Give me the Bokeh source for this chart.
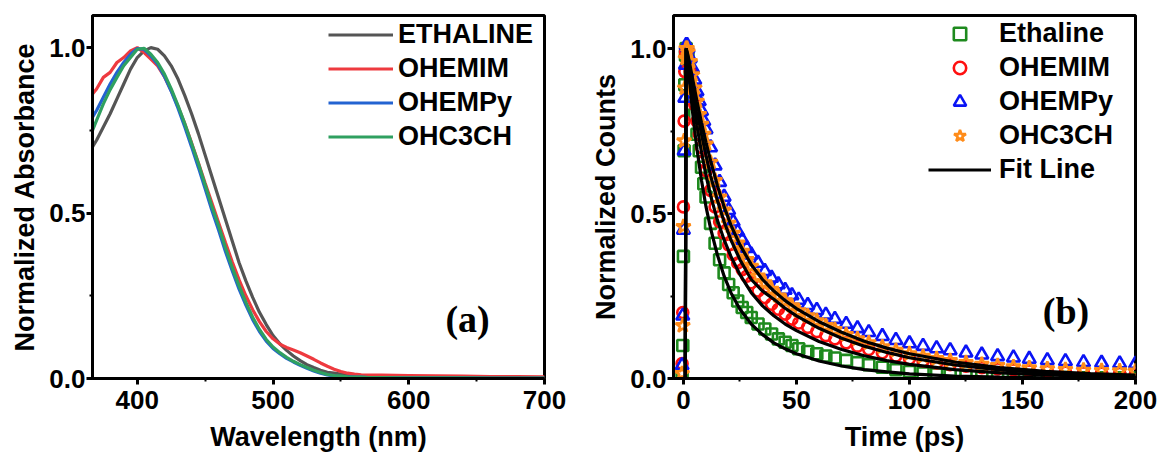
from bokeh.plotting import figure
from bokeh.layouts import row
from bokeh.models import FixedTicker, PrintfTickFormatter, Legend, LegendItem, Label
from bokeh.embed import file_html
from bokeh.resources import INLINE

# ---------------- Panel (a): normalized absorbance ----------------
wavelength = [367, 370, 375, 380, 385, 390, 395, 400, 405, 410, 415, 420, 425, 430, 435,
              440, 445, 450, 455, 460, 465, 470, 475, 480, 485, 490, 495, 500, 505, 510,
              515, 520, 525, 530, 535, 540, 545, 550, 555, 560, 565, 570, 575, 580,
              600, 620, 640, 660, 680, 700]
abs_ethaline = [0.70, 0.72, 0.76, 0.80, 0.845, 0.89, 0.935, 0.97, 0.99, 1.0, 0.995, 0.975, 0.945, 0.905, 0.855,
                0.80, 0.74, 0.675, 0.61, 0.545, 0.48, 0.415, 0.35, 0.295, 0.245, 0.20, 0.163, 0.13, 0.105, 0.085,
                0.068, 0.054, 0.042, 0.033, 0.025, 0.019, 0.016, 0.013, 0.011, 0.009, 0.008, 0.007, 0.006, 0.006,
                0.005, 0.004, 0.003, 0.003, 0.002, 0.002]
abs_ohemim = [0.86, 0.875, 0.91, 0.925, 0.955, 0.97, 0.99, 1.0, 0.985, 0.965, 0.945, 0.912, 0.87, 0.822, 0.77,
              0.712, 0.652, 0.59, 0.53, 0.47, 0.41, 0.352, 0.298, 0.25, 0.208, 0.172, 0.142, 0.12, 0.104, 0.094,
              0.086, 0.078, 0.068, 0.058, 0.047, 0.037, 0.028, 0.021, 0.016, 0.013, 0.011, 0.01, 0.01, 0.01,
              0.009, 0.008, 0.007, 0.006, 0.006, 0.005]
abs_ohempy = [0.79, 0.81, 0.85, 0.89, 0.925, 0.955, 0.98, 0.997, 0.995, 0.975, 0.95, 0.913, 0.868, 0.817, 0.76,
              0.70, 0.638, 0.573, 0.508, 0.447, 0.383, 0.325, 0.27, 0.222, 0.178, 0.142, 0.113, 0.091, 0.075, 0.061,
              0.05, 0.04, 0.031, 0.023, 0.016, 0.011, 0.008, 0.006, 0.005, 0.004, 0.004, 0.003, 0.003, 0.003,
              0.002, 0.002, 0.002, 0.001, 0.001, 0.001]
abs_ohc3ch = [0.75, 0.78, 0.83, 0.873, 0.91, 0.945, 0.97, 0.995, 0.998, 0.98, 0.955, 0.92, 0.875, 0.825, 0.77,
              0.71, 0.65, 0.585, 0.52, 0.46, 0.395, 0.335, 0.28, 0.23, 0.185, 0.148, 0.118, 0.095, 0.078, 0.064,
              0.052, 0.042, 0.033, 0.025, 0.018, 0.012, 0.009, 0.007, 0.005, 0.004, 0.004, 0.003, 0.003, 0.003,
              0.002, 0.002, 0.002, 0.001, 0.001, 0.001]
abs_names = ["ETHALINE", "OHEMIM", "OHEMPy", "OHC3CH"]
abs_colors = ["#555555", "#EE3A3F", "#2363D1", "#2FA060"]

# ---------------- Panel (b): normalized counts ----------------
time_ps = [-0.6, -0.3, 0.0, 0.3, 0.6, 0.9, 1.2, 1.6,
           2, 3, 4, 5, 6, 7, 8, 9, 10,
           12, 14, 16, 18, 20, 22, 24, 26, 28, 30,
           33, 36, 39, 42, 45, 48, 51,
           55, 59, 63, 67,
           72, 77, 82,
           88, 94, 100,
           106, 112, 118,
           125, 132, 139, 146,
           153, 161, 169, 177, 185, 193, 200]
cnt_ethaline = [0.01, 0.10, 0.37, 0.69, 0.89, 0.98, 1.0, 0.99,
                0.97, 0.92, 0.86, 0.80, 0.74, 0.69, 0.64, 0.59, 0.55,
                0.47, 0.41, 0.36, 0.32, 0.285, 0.26, 0.235, 0.215, 0.20, 0.185,
                0.165, 0.15, 0.135, 0.12, 0.11, 0.10, 0.09,
                0.082, 0.075, 0.068, 0.062,
                0.055, 0.048, 0.042,
                0.034, 0.027, 0.021,
                0.017, 0.014, 0.011,
                0.009, 0.007, 0.006, 0.005,
                0.004, 0.003, 0.003, 0.002, 0.002, 0.002, 0.001]
cnt_ohemim = [0.045, 0.20, 0.52, 0.78, 0.93, 0.99, 1.0, 0.99,
              0.97, 0.93, 0.88, 0.83, 0.78, 0.74, 0.70, 0.66, 0.63,
              0.57, 0.52, 0.475, 0.44, 0.405, 0.375, 0.35, 0.33, 0.31, 0.29,
              0.265, 0.245, 0.225, 0.21, 0.195, 0.18, 0.168,
              0.155, 0.142, 0.13, 0.12,
              0.108, 0.098, 0.088,
              0.078, 0.068, 0.06,
              0.053, 0.047, 0.042,
              0.037, 0.033, 0.029, 0.026,
              0.023, 0.021, 0.019, 0.017, 0.016, 0.015, 0.014]
cnt_ohempy = [0.04, 0.19, 0.45, 0.69, 0.85, 0.95, 1.01, 1.01,
              1.0, 0.97, 0.94, 0.905, 0.87, 0.84, 0.81, 0.78, 0.755,
              0.70, 0.645, 0.595, 0.55, 0.51, 0.475, 0.445, 0.42, 0.395, 0.375,
              0.35, 0.325, 0.305, 0.285, 0.268, 0.252, 0.238,
              0.222, 0.207, 0.193, 0.18,
              0.165, 0.152, 0.14,
              0.128, 0.116, 0.106,
              0.098, 0.091, 0.085,
              0.078, 0.072, 0.067, 0.063,
              0.059, 0.055, 0.052, 0.049, 0.047, 0.045, 0.044]
cnt_ohc3ch = [0.015, 0.16, 0.46, 0.72, 0.88, 0.97, 1.0, 1.0,
              0.99, 0.96, 0.92, 0.88, 0.84, 0.80, 0.77, 0.74, 0.71,
              0.655, 0.60, 0.55, 0.51, 0.47, 0.44, 0.41, 0.385, 0.36, 0.34,
              0.31, 0.29, 0.27, 0.25, 0.235, 0.22, 0.205,
              0.19, 0.175, 0.16, 0.148,
              0.133, 0.12, 0.108,
              0.096, 0.085, 0.075,
              0.067, 0.06, 0.054,
              0.048, 0.043, 0.039, 0.035,
              0.032, 0.029, 0.027, 0.025, 0.024, 0.023, 0.022]

fit_time = [0.8, 1.2, 2, 3, 4, 5, 6, 8, 10, 12, 15, 18, 21, 25, 30, 35, 40, 45, 50,
            60, 70, 80, 90, 100, 120, 140, 160, 180, 200]
fit_ethaline = [0.0, 1.0, 0.95, 0.88, 0.81, 0.75, 0.695, 0.60, 0.52, 0.455, 0.375, 0.31, 0.26, 0.21,
                0.165, 0.133, 0.108, 0.09, 0.075, 0.053, 0.038, 0.027, 0.02, 0.014, 0.007, 0.004,
                0.002, 0.001, 0.0005]
fit_ohemim = [0.0, 1.0, 0.96, 0.91, 0.86, 0.81, 0.765, 0.685, 0.615, 0.555, 0.48, 0.42, 0.37, 0.315,
              0.26, 0.22, 0.19, 0.165, 0.145, 0.112, 0.088, 0.069, 0.054, 0.043, 0.027, 0.017,
              0.011, 0.007, 0.004]
fit_ohc3ch = [0.0, 1.0, 0.97, 0.93, 0.89, 0.85, 0.81, 0.74, 0.675, 0.615, 0.54, 0.475, 0.42, 0.36,
              0.30, 0.265, 0.24, 0.213, 0.19, 0.152, 0.122, 0.098, 0.079, 0.063, 0.041, 0.026,
              0.017, 0.011, 0.007]
fit_ohempy = [0.0, 1.0, 0.98, 0.945, 0.91, 0.875, 0.84, 0.775, 0.715, 0.66, 0.585, 0.52, 0.465, 0.405,
              0.345, 0.30, 0.265, 0.236, 0.212, 0.172, 0.14, 0.113, 0.092, 0.075, 0.05, 0.033,
              0.022, 0.015, 0.01]

cnt_names = ["Ethaline", "OHEMIM", "OHEMPy", "OHC3CH"]
cnt_colors = ["#1E8A1E", "#FF1010", "#0A14F5", "#FF8C1A"]
cnt_markers = ["square", "circle", "triangle", "star"]
cnt_sizes = [11, 11, 13, 15]

SANS = "Liberation Sans"
SERIF = "Liberation Serif"


def style(p, xticks, xminor, yticks, yminor, xlabel, ylabel):
    p.xgrid.visible = False
    p.ygrid.visible = False
    p.outline_line_color = "black"
    p.outline_line_width = 3
    p.outline_line_alpha = 1
    p.background_fill_color = "white"
    p.border_fill_color = "white"
    for ax in (p.xaxis[0], p.yaxis[0]):
        ax.axis_line_width = 3
        ax.axis_line_color = "black"
        ax.major_tick_line_width = 3
        ax.minor_tick_line_width = 2
        ax.major_tick_out = 6
        ax.major_tick_in = 0
        ax.minor_tick_out = 3
        ax.minor_tick_in = 0
        ax.major_label_text_font = SANS
        ax.major_label_text_font_style = "bold"
        ax.major_label_text_font_size = "26px"
        ax.major_label_text_color = "black"
        ax.axis_label_text_font = SANS
        ax.axis_label_text_font_style = "bold"
        ax.axis_label_text_font_size = "27px"
        ax.axis_label_text_color = "black"
    p.xaxis[0].ticker = FixedTicker(ticks=xticks, minor_ticks=xminor)
    p.yaxis[0].ticker = FixedTicker(ticks=yticks, minor_ticks=yminor)
    p.yaxis[0].formatter = PrintfTickFormatter(format="%.1f")
    p.xaxis[0].axis_label = xlabel
    p.yaxis[0].axis_label = ylabel
    p.xaxis[0].major_label_standoff = 6
    p.yaxis[0].major_label_standoff = 1
    p.xaxis[0].axis_label_standoff = 10
    p.yaxis[0].axis_label_standoff = 6


def make_legend(items, x, y, glyph_w, standoff):
    lg = Legend(items=items, location=(x, y))
    lg.border_line_color = None
    lg.background_fill_alpha = 0
    lg.label_text_font = SANS
    lg.label_text_font_style = "bold"
    lg.label_text_font_size = "27px"
    lg.label_text_color = "black"
    lg.glyph_width = glyph_w
    lg.glyph_height = 31
    lg.label_height = 31
    lg.label_standoff = standoff
    lg.spacing = 3
    lg.padding = 0
    lg.margin = 0
    return lg


# ---- figure a ----
pa = figure(width=580, height=461, x_range=(367, 700), y_range=(0, 1.097),
            output_backend="svg", toolbar_location=None,
            min_border_left=92, min_border_right=36, min_border_top=15, min_border_bottom=83)
style(pa, [400, 500, 600, 700], [450, 550, 650], [0, 0.5, 1.0], [0.25, 0.75],
      "Wavelength (nm)", "Normalized Absorbance")

abs_series = [abs_ethaline, abs_ohemim, abs_ohempy, abs_ohc3ch]
a_items = []
for name, col, ys in zip(abs_names, abs_colors, abs_series):
    r = pa.line(wavelength, ys, line_color=col, line_width=3.2)
    a_items.append(LegendItem(label=name, renderers=[r]))
pa.add_layout(make_legend(a_items, 236, 226, 65, 5))
pa.add_layout(Label(x=627, y=0.18, text="(a)", text_font=SERIF, text_font_style="bold",
                    text_font_size="38px", text_color="black", text_align="left",
                    text_baseline="middle"))

# ---- figure b ----
pb = figure(width=580, height=461, x_range=(-4.4, 200), y_range=(0, 1.1),
            output_backend="svg", toolbar_location=None,
            min_border_left=93, min_border_right=25, min_border_top=13, min_border_bottom=79)
style(pb, [0, 50, 100, 150, 200], [25, 75, 125, 175], [0, 0.5, 1.0], [0.25, 0.75],
      "Time (ps)", "Normalized Counts")

cnt_series = [cnt_ethaline, cnt_ohemim, cnt_ohempy, cnt_ohc3ch]
b_items = []
for name, col, mk, sz, ys in zip(cnt_names, cnt_colors, cnt_markers, cnt_sizes, cnt_series):
    r = pb.scatter(time_ps, ys, marker=mk, size=sz, line_color=col, fill_color=None,
                   line_width=2.6)
    b_items.append(LegendItem(label=name, renderers=[r]))

fit_series = [fit_ethaline, fit_ohemim, fit_ohc3ch, fit_ohempy]
fit_r = None
for ys in fit_series:
    fit_r = pb.line(fit_time, ys, line_color="black", line_width=3.2)
b_items.append(LegendItem(label="Fit Line", renderers=[fit_r]))
pb.add_layout(make_legend(b_items, 255, 193, 63, 8))
pb.add_layout(Label(x=159, y=0.205, text="(b)", text_font=SERIF, text_font_style="bold",
                    text_font_size="38px", text_color="black", text_align="left",
                    text_baseline="middle"))

layout = row(pa, pb)
open("out.html", "w").write(file_html(layout, INLINE))
